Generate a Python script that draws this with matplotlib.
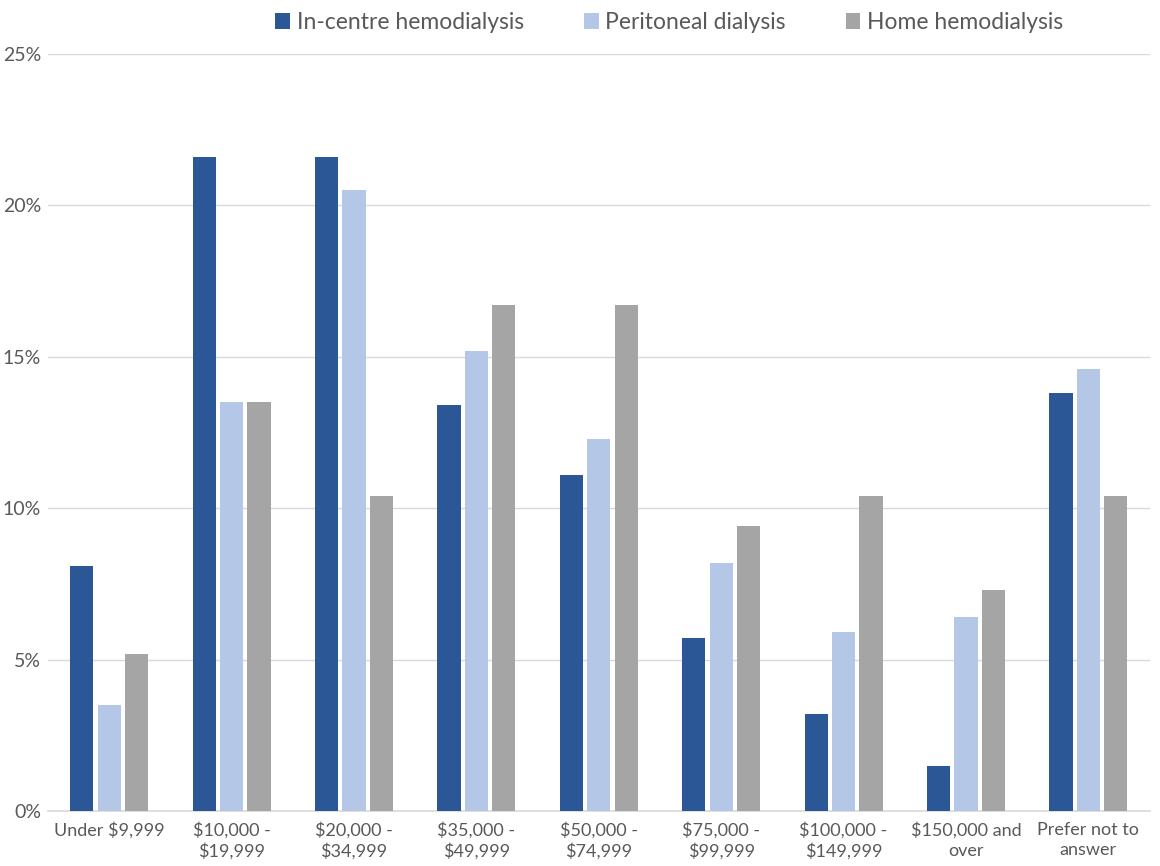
import matplotlib
matplotlib.use("Agg")
import matplotlib.pyplot as plt
from matplotlib.ticker import FuncFormatter, MultipleLocator
import numpy as np

categories = ["Under $9,999", "$10,000 -\n$19,999", "$20,000 -\n$34,999", "$35,000 -\n$49,999",
              "$50,000 -\n$74,999", "$75,000 -\n$99,999", "$100,000 -\n$149,999",
              "$150,000 and\nover", "Prefer not to\nanswer"]
in_centre = [8.1, 21.6, 21.6, 13.4, 11.1, 5.7, 3.2, 1.5, 13.8]
peritoneal = [3.5, 13.5, 20.5, 15.2, 12.3, 8.2, 5.9, 6.4, 14.6]
home = [5.2, 13.5, 10.4, 16.7, 16.7, 9.4, 10.4, 7.3, 10.4]
series_names = ["In-centre hemodialysis", "Peritoneal dialysis", "Home hemodialysis"]
colors = ["#2b5797", "#b4c7e7", "#a5a5a5"]

plt.rcParams['font.family'] = ['Lato', 'DejaVu Sans']
fig = plt.figure(figsize=(11.6, 8.66), dpi=100)
ax = fig.add_axes([0.0414, 0.0635, 0.9496, 0.8741])

x = np.arange(len(categories))
w = 0.19
off = 0.224
for i, (vals, name, c) in enumerate(zip([in_centre, peritoneal, home], series_names, colors)):
    ax.bar(x + (i - 1) * off, vals, width=w, color=c, label=name, zorder=3)

ax.set_xlim(-0.5, len(categories) - 0.5)
ax.set_ylim(0, 25)
ax.yaxis.set_major_locator(MultipleLocator(5))
ax.yaxis.set_major_formatter(FuncFormatter(lambda v, p: f"{v:.0f}%"))
ax.grid(axis='y', color='#d9d9d9', linewidth=1, zorder=0)
for s in ['top', 'right', 'left']:
    ax.spines[s].set_visible(False)
ax.spines['bottom'].set_color('#d9d9d9')
ax.spines['bottom'].set_linewidth(1.2)
ax.set_xticks(x)
ax.set_xticklabels(categories, fontsize=13, color='#595959', linespacing=1.3)
ax.tick_params(axis='both', length=0, labelcolor='#595959')
ax.tick_params(axis='y', pad=5, labelsize=14)
ax.tick_params(axis='x', pad=8, labelsize=13)

leg = fig.legend(loc='upper center', bbox_to_anchor=(0.577, 1.01), ncol=3, frameon=False,
                 fontsize=16.5, handlelength=0.65, handleheight=0.65, handletextpad=0.3,
                 columnspacing=2.6, labelcolor='#595959')

fig.savefig("out.png", dpi=100)
